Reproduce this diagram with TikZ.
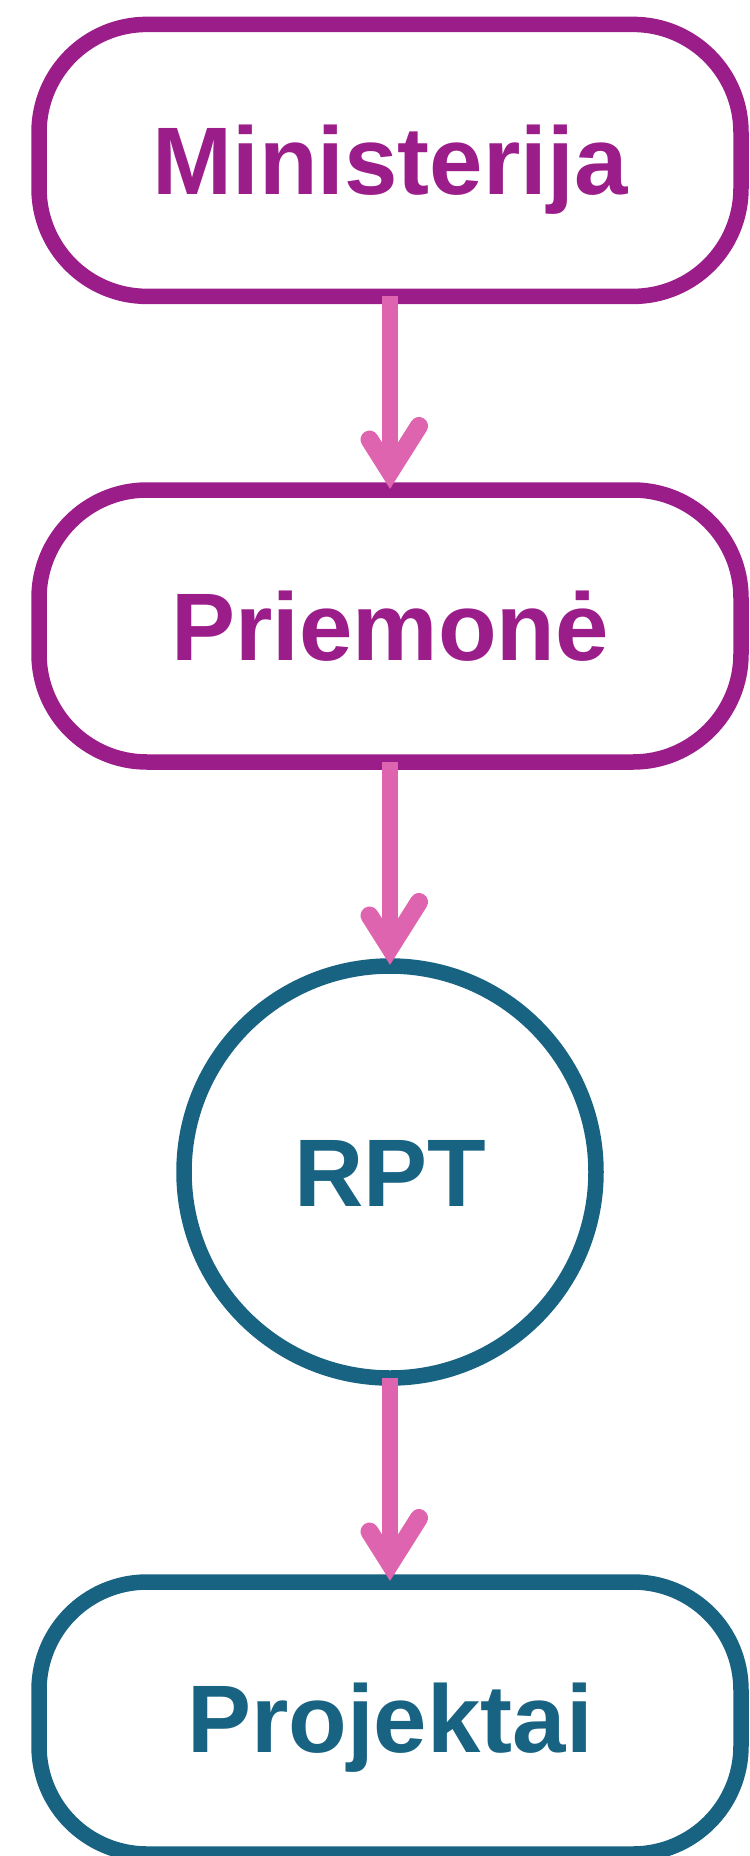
\documentclass[tikz,border=0pt]{standalone}
\usepackage{fontspec}
\setmainfont{Liberation Sans}
\usetikzlibrary{decorations.markings}
\definecolor{plum}{RGB}{155,29,138}
\definecolor{petrol}{RGB}{24,98,130}
\definecolor{rosy}{RGB}{223,100,175}
\tikzset
    { level box/.style =
        { draw, rounded corners=54pt, line width=7.75pt
        , minimum width=351pt, minimum height=136pt
        , inner sep=0pt, outer sep=0pt
        , font=\fontsize{48}{58}\selectfont\bfseries
        , text height=34.5pt, text depth=0pt
        }
    , level circle/.style =
        { draw, circle, line width=7.75pt
        , minimum size=206pt
        , inner sep=0pt, outer sep=0pt
        , font=\fontsize{48}{58}\selectfont\bfseries
        , text height=34.5pt, text depth=0pt
        }
    , down arrow/.style =
        { draw=rosy, line width=8pt, shorten >=8pt
        , decoration =
            { markings
            , mark=at position 1 with
                {\draw[rosy, line width=9pt, line cap=round, line join=miter]
                    (-32pt, 14.5pt) -- (-9pt, 0pt) -- (-32pt, -14.5pt);}
            }
        , postaction = {decorate}
        }
    }

\begin{document}
\begin{tikzpicture}[x=0.5pt, y=-0.5pt]

    \useasboundingbox (0, 0) rectangle (749, 1856);

    \node[level box, draw=plum, text=plum] (ministerija) at (390, 160.4) {Ministerija};
    \node[level box, draw=plum, text=plum] (priemone) at (390, 626) {Priemonė};
    \node[level circle, draw=petrol, text=petrol] (rpt) at (390, 1172) {RPT};
    \node[level box, draw=petrol, text=petrol] (projektai) at (390, 1718) {Projektai};

    \draw[down arrow] (ministerija.south) -- (priemone.north);
    \draw[down arrow] (priemone.south) -- (rpt.north);
    \draw[down arrow] (rpt.south) -- (projektai.north);

\end{tikzpicture}
\end{document}
